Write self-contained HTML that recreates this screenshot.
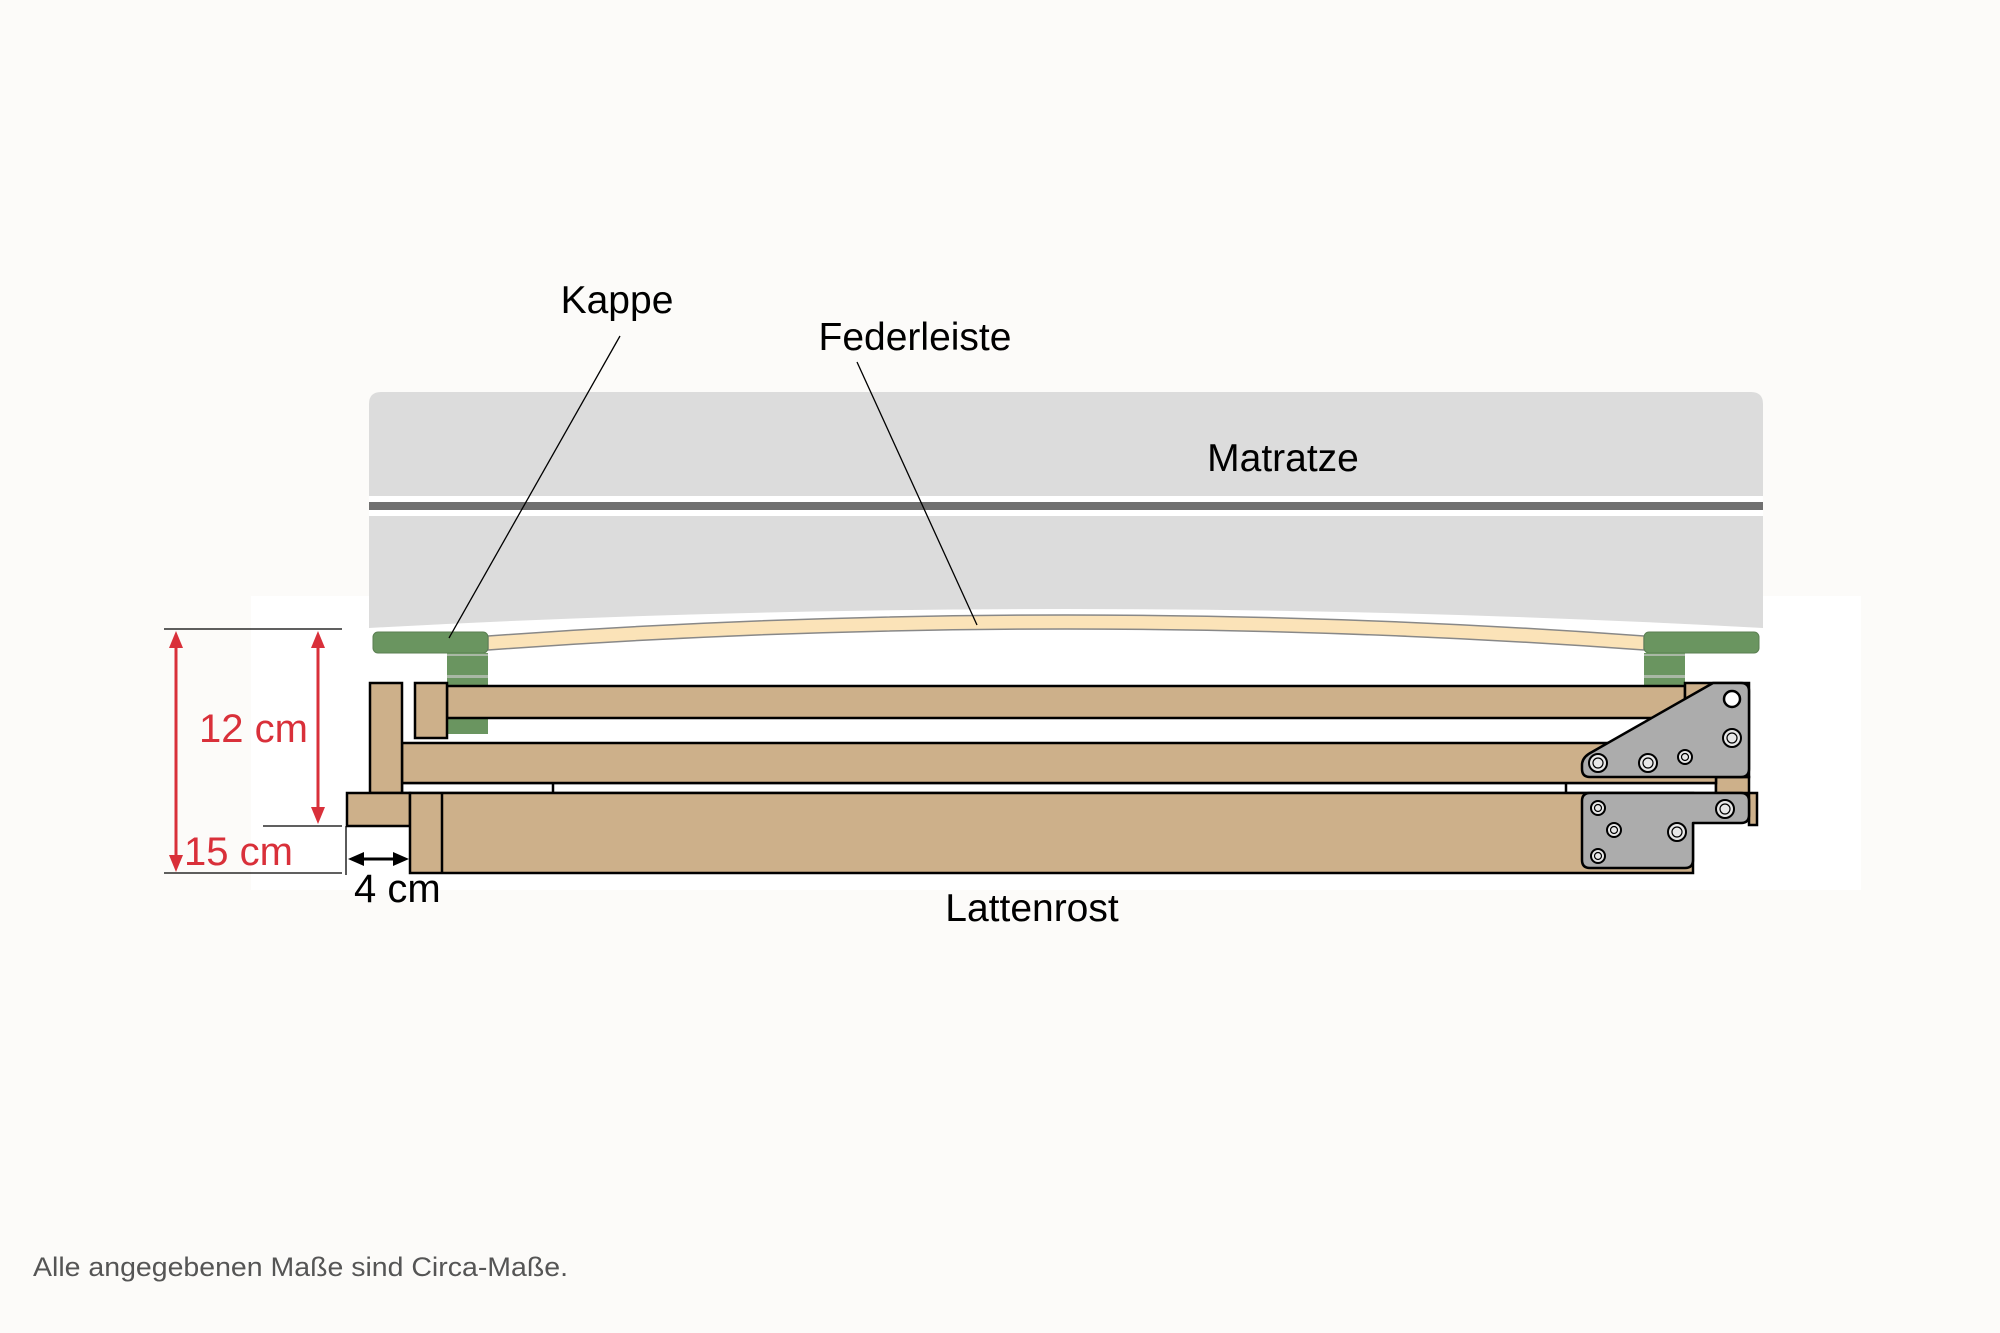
<!DOCTYPE html>
<html><head><meta charset="utf-8"><style>
html,body{margin:0;padding:0;background:#fcfbf9;}
svg{display:block;}
text{font-family:"Liberation Sans",sans-serif;}
</style></head><body>
<svg width="2000" height="1333" viewBox="0 0 2000 1333" xmlns="http://www.w3.org/2000/svg">
<rect width="2000" height="1333" fill="#fcfbf9"/>
<rect x="251" y="596" width="1610" height="294" fill="#ffffff"/>
<!-- mattress -->
<path d="M369,404 Q369,392 381,392 L1751,392 Q1763,392 1763,404 L1763,628 Q1066,590 369,628 Z" fill="#dcdcdc"/>
<rect x="369" y="496" width="1394" height="20" fill="#ffffff"/>
<rect x="369" y="502" width="1394" height="8" fill="#707070"/>
<text x="1283" y="471" font-size="39" text-anchor="middle" fill="#000">Matratze</text>
<!-- slat -->
<path d="M488,636 Q1066,594 1644,636 L1644,650 Q1066,608 488,650 Z" fill="#fbe3b8" stroke="#888" stroke-width="1.5"/>
<!-- caps -->
<rect x="373" y="632" width="115" height="21" rx="5" fill="#6a9560" stroke="#5b7f52" stroke-width="1"/>
<rect x="447" y="653" width="41" height="81" fill="#6a9560"/>
<rect x="447" y="654" width="41" height="2" fill="#a9b8a5"/>
<rect x="447" y="675" width="41" height="3" fill="#a9b8a5"/>
<rect x="1644" y="632" width="115" height="21" rx="5" fill="#6a9560" stroke="#5b7f52" stroke-width="1"/>
<rect x="1644" y="653" width="41" height="32" fill="#6a9560"/>
<rect x="1644" y="654" width="41" height="2" fill="#a9b8a5"/>
<rect x="1644" y="675" width="41" height="3" fill="#a9b8a5"/>
<!-- frame -->
<g fill="#cdb08a" stroke="#000" stroke-width="2.5">
<rect x="402" y="783" width="1314" height="10" fill="#fff"/>
<rect x="1716" y="777" width="33" height="16"/>
<rect x="447" y="686" width="1238" height="32"/>
<rect x="1685" y="683" width="64" height="94"/>
<rect x="415" y="683" width="32" height="55"/>
<rect x="402" y="743" width="1314" height="40"/>
<rect x="370" y="683" width="32" height="110"/>
<rect x="347" y="793" width="63" height="33"/>
<rect x="410" y="793" width="1283" height="80"/>
<line x1="442" y1="793" x2="442" y2="873"/>
<rect x="1749" y="793" width="8" height="32"/>
<line x1="553" y1="783" x2="553" y2="793"/>
<line x1="1566" y1="783" x2="1566" y2="793"/>
</g>
<!-- brackets -->
<g fill="#acacac" stroke="#000" stroke-width="2.5" stroke-linejoin="round">
<path d="M1713,683 L1741,683 Q1749,683 1749,691 L1749,769 Q1749,777 1741,777 L1590,777 Q1582,777 1582,769 L1582,765 Q1582,757 1592,752 Z"/>
<path d="M1590,793 L1741,793 Q1749,793 1749,801 L1749,815 Q1749,823 1741,823 L1693,823 L1693,860 Q1693,868 1685,868 L1590,868 Q1582,868 1582,860 L1582,801 Q1582,793 1590,793 Z"/>
</g>
<circle cx="1732" cy="699" r="8" fill="#fff" stroke="#000" stroke-width="2.5"/>
<g fill="#e8e8e8" stroke="#000" stroke-width="2">
<circle cx="1732" cy="738" r="9"/><circle cx="1598" cy="763" r="9"/><circle cx="1648" cy="763" r="9"/><circle cx="1685" cy="757" r="7"/>
<circle cx="1598" cy="808" r="7"/><circle cx="1614" cy="830" r="7"/><circle cx="1598" cy="856" r="7"/><circle cx="1725" cy="809" r="9"/><circle cx="1677" cy="832" r="9"/>
</g>
<g stroke="#000" stroke-width="1.2" fill="none">
<circle cx="1732" cy="738" r="5"/><circle cx="1598" cy="763" r="5"/><circle cx="1648" cy="763" r="5"/><circle cx="1685" cy="757" r="3.5"/>
<circle cx="1598" cy="808" r="3.5"/><circle cx="1614" cy="830" r="3.5"/><circle cx="1598" cy="856" r="3.5"/><circle cx="1725" cy="809" r="5"/><circle cx="1677" cy="832" r="5"/>
</g>
<!-- leaders -->
<line x1="620" y1="336" x2="449" y2="638" stroke="#000" stroke-width="1.3"/>
<line x1="857" y1="362" x2="977" y2="625" stroke="#000" stroke-width="1.3"/>
<text x="617" y="313" font-size="39" text-anchor="middle" fill="#000">Kappe</text>
<text x="915" y="350" font-size="39" text-anchor="middle" fill="#000">Federleiste</text>
<text x="1032" y="921" font-size="39" text-anchor="middle" fill="#000">Lattenrost</text>
<!-- dimensions -->
<g stroke="#000" stroke-width="1.3">
<line x1="164" y1="629" x2="342" y2="629"/>
<line x1="263" y1="826" x2="342" y2="826"/>
<line x1="164" y1="873" x2="342" y2="873"/>
<line x1="346" y1="826" x2="346" y2="875"/>
</g>
<g stroke="#d9303a" stroke-width="3" fill="#d9303a">
<line x1="176" y1="645" x2="176" y2="857"/>
<path d="M176,631 L169,648 L183,648 Z" stroke="none"/>
<path d="M176,872 L169,855 L183,855 Z" stroke="none"/>
<line x1="318" y1="645" x2="318" y2="810"/>
<path d="M318,631 L311,648 L325,648 Z" stroke="none"/>
<path d="M318,824 L311,807 L325,807 Z" stroke="none"/>
</g>
<g stroke="#000" stroke-width="3" fill="#000">
<line x1="360" y1="859" x2="398" y2="859"/>
<path d="M348,859 L364,852 L364,866 Z" stroke="none"/>
<path d="M409,859 L393,852 L393,866 Z" stroke="none"/>
</g>
<text x="199" y="742" font-size="40" fill="#d9303a">12 cm</text>
<text x="184" y="865" font-size="40" fill="#d9303a">15 cm</text>
<text x="354" y="902" font-size="40" fill="#000">4 cm</text>
<text x="33" y="1276" font-size="27" fill="#555" textLength="535" lengthAdjust="spacingAndGlyphs">Alle angegebenen Maße sind Circa-Maße.</text>
</svg>
</body></html>
